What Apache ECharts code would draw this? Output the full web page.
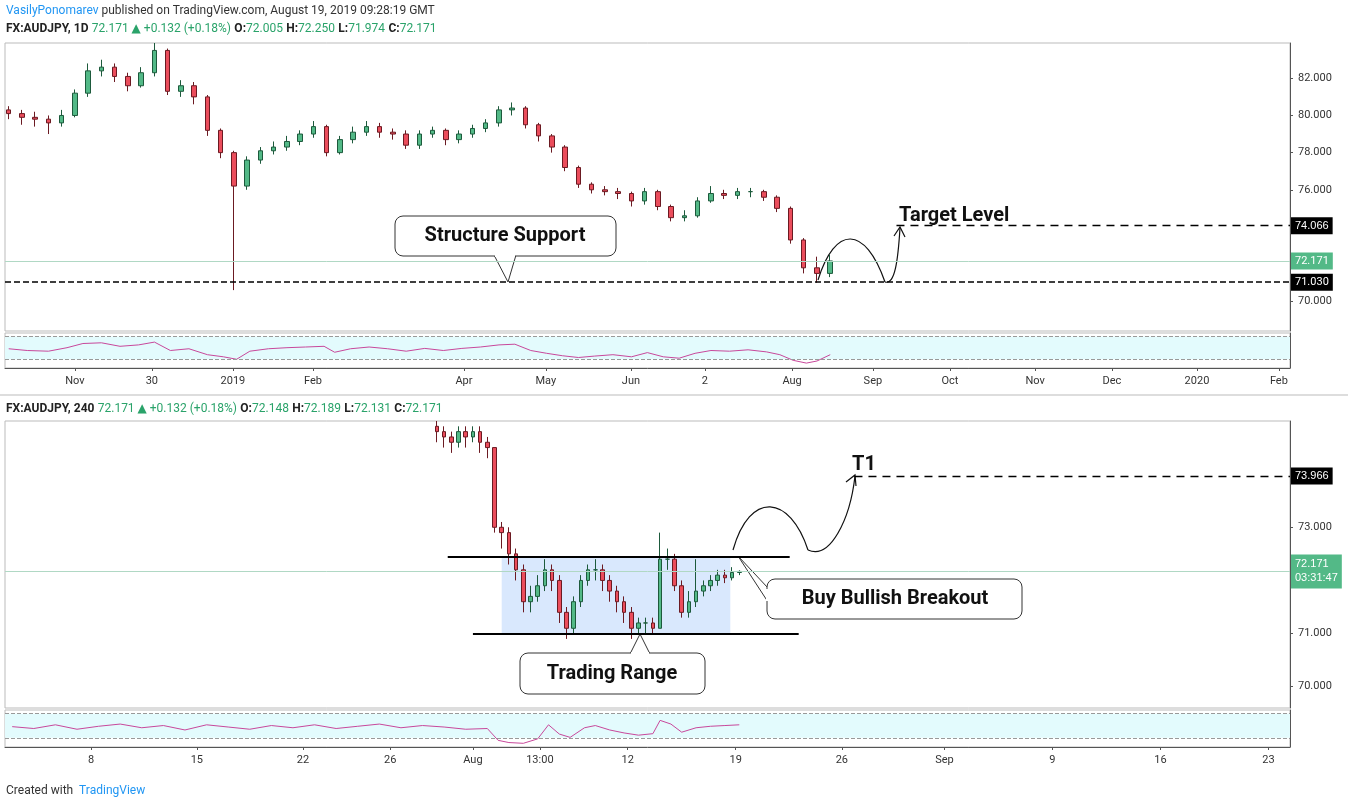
<!DOCTYPE html>
<html><head><meta charset="utf-8">
<script src="https://cdn.jsdelivr.net/npm/echarts@6/dist/echarts.min.js"></script>
<style>html,body{margin:0;padding:0;background:#fff}#c{width:1348px;height:810px}</style>
</head><body><div id="c"></div>
<script>
// daily candles: [pos, open, close, low, high]
var dailyCandles = [
  [-25,80.3,80.1,79.8,80.5],[-20,80.1,79.9,79.5,80.3],[-15,79.9,79.8,79.4,80.2],[-10,79.8,79.6,79.0,80.0],
  [-5,79.6,80.0,79.4,80.3],[0,80.0,81.2,79.9,81.4],[5,81.2,82.4,81.0,82.8],[10,82.4,82.6,82.1,83.0],
  [15,82.6,82.1,81.8,82.8],[20,82.1,81.6,81.3,82.3],[25,81.6,82.3,81.5,82.6],[30,82.3,83.5,82.1,83.9],
  [35,83.5,81.3,81.1,83.6],[40,81.3,81.6,81.0,81.9],[45,81.6,81.0,80.6,81.8],[50,81.0,79.2,78.9,81.1],
  [55,79.2,78.0,77.7,79.3],[60,78.0,76.2,70.6,78.1],[65,76.2,77.6,76.0,77.8],[70,77.6,78.1,77.4,78.3],
  [75,78.1,78.3,77.9,78.6],[80,78.3,78.6,78.1,78.9],[85,78.6,79.0,78.4,79.2],[90,79.0,79.4,78.8,79.7],
  [95,79.4,78.0,77.8,79.5],[100,78.0,78.7,77.9,78.9],[105,78.7,79.1,78.5,79.4],[110,79.1,79.4,78.9,79.7],
  [115,79.4,79.1,78.8,79.6],[120,79.1,79.0,78.7,79.3],[125,79.0,78.4,78.2,79.2],[130,78.4,79.0,78.2,79.2],
  [135,79.0,79.2,78.8,79.4],[140,79.2,78.7,78.4,79.3],[145,78.7,79.0,78.5,79.2],[150,79.0,79.3,78.8,79.5],
  [155,79.3,79.6,79.1,79.8],[160,79.6,80.3,79.4,80.5],[165,80.3,80.4,80.0,80.7],[170,80.4,79.5,79.3,80.5],
  [175,79.5,78.9,78.6,79.6],[180,78.9,78.3,78.0,79.0],[185,78.3,77.2,77.0,78.4],[190,77.2,76.3,76.1,77.3],
  [195,76.3,76.0,75.8,76.4],[200,76.0,75.9,75.7,76.2],[205,75.9,75.8,75.5,76.1],[210,75.8,75.4,75.1,75.9],
  [215,75.4,75.9,75.2,76.1],[220,75.9,75.1,74.9,76.0],[225,75.1,74.5,74.3,75.2],[230,74.5,74.6,74.3,74.9],
  [235,74.6,75.4,74.5,75.6],[240,75.4,75.8,75.3,76.2],[245,75.8,75.7,75.5,76.0],[250,75.7,75.9,75.5,76.1],
  [255,75.9,75.9,75.6,76.1],[260,75.9,75.6,75.4,76.0],[265,75.6,75.0,74.8,75.7],[270,75.0,73.3,73.1,75.1],
  [275,73.3,71.8,71.5,73.4],[280,71.8,71.5,71.0,72.4],[285,71.5,72.17,71.3,72.5]
];
var dailyRsi = [
  [-25,55],[-18,50],[-10,48],[-3,58],[3,70],[10,72],[17,62],[24,66],[30,74],[36,50],[43,55],[50,38],
  [56,32],[61,25],[66,48],[73,55],[80,58],[87,60],[94,62],[98,45],[104,55],[111,60],[118,55],[125,48],
  [132,56],[139,50],[146,56],[153,60],[160,66],[166,68],[172,50],[178,42],[184,35],[190,30],[196,34],
  [203,38],[210,32],[216,44],[222,32],[228,28],[234,42],[240,50],[247,48],[254,52],[261,46],[266,38],
  [271,22],[276,14],[280,20],[285,38]
];
var dailyTickPos = [0,29,59.6,89.8,146.8,177.7,209.8,237.7,270.6,301.1,330.2,362.3,391.3,423.4,454.3];
var dailyTickNames = ['Nov','30','2019','Feb','Apr','May','Jun','2','Aug','Sep','Oct','Nov','Dec','2020','Feb'];
var dailyPriceTicks = [70,76,78,80,82];

// 4h candles: [pos, open, close, low, high]
var h4Candles = [
  [120,74.9,74.8,74.6,75.0],[122,74.8,74.7,74.5,74.9],[124,74.7,74.6,74.4,74.8],[126,74.6,74.8,74.5,74.9],
  [128,74.8,74.7,74.5,74.9],[130,74.7,74.8,74.6,74.9],[132,74.8,74.6,74.4,74.9],[134,74.6,74.5,74.3,74.7],
  [136,74.5,73.0,72.9,74.5],[138,73.0,72.9,72.6,73.1],[140,72.9,72.5,72.3,73.0],[142,72.5,72.2,72.0,72.6],
  [144,72.2,71.6,71.4,72.3],[146,71.6,71.7,71.4,71.9],[148,71.7,71.9,71.6,72.1],[150,71.9,72.2,71.8,72.4],
  [152,72.2,72.0,71.8,72.3],[154,72.0,71.4,71.2,72.1],[156,71.4,71.1,70.9,71.5],[158,71.1,71.6,71.0,71.7],
  [160,71.6,72.0,71.5,72.1],[162,72.0,72.2,71.9,72.3],[164,72.2,72.2,72.0,72.4],[166,72.2,72.0,71.8,72.3],
  [168,72.0,71.8,71.6,72.1],[170,71.8,71.6,71.4,71.9],[172,71.6,71.4,71.2,71.7],[174,71.4,71.1,70.9,71.5],
  [176,71.1,71.2,71.0,71.3],[178,71.2,71.2,71.0,71.3],[180,71.2,71.1,71.0,71.3],[182,71.1,72.4,71.1,72.9],
  [184,72.4,72.4,72.2,72.6],[186,72.4,71.9,71.8,72.5],[188,71.9,71.4,71.3,72.0],[190,71.4,71.6,71.3,71.8],
  [192,71.6,71.8,71.5,72.4],[194,71.8,71.9,71.7,72.0],[196,71.9,72.0,71.8,72.1],[198,72.0,72.1,71.9,72.2],
  [200,72.1,72.05,71.95,72.2],[202,72.05,72.15,72.0,72.25],[204,72.15,72.17,72.1,72.19]
];
var h4Rsi = [
  [2,55],[8,50],[14,60],[20,48],[26,56],[32,62],[38,52],[44,58],[50,46],[56,60],[62,54],[68,48],[74,58],
  [80,52],[86,60],[92,50],[98,56],[104,62],[110,52],[116,58],[122,54],[128,48],[134,50],[137,18],[140,12],
  [144,10],[148,22],[151,60],[154,35],[157,26],[161,52],[164,58],[168,46],[172,38],[176,32],[180,36],
  [182,72],[185,62],[188,40],[192,52],[196,56],[200,58],[204,60]
];
var h4TickPos = [23.9,53.3,82.8,107,130,148.6,173,203,232.5,261,291,321,351];
var h4TickNames = ['8','15','22','26','Aug','13:00','12','19','26','Sep','9','16','23'];
var h4PriceTicks = [70,71,73];

var UP = '#53b987', DOWN = '#eb4d5c', FONT = 'Roboto, "DejaVu Sans", sans-serif';

function xAxis(idx, min, max, pos, names, showLabels) {
  return {
    type: 'value', gridIndex: idx, min: min, max: max,
    splitLine: {show: false}, axisLine: {show: showLabels, onZero: false, lineStyle: {color: '#555'}},
    axisTick: {show: showLabels, customValues: pos, lineStyle: {color: '#555'}, length: 3},
    axisLabel: {show: showLabels, customValues: pos, color: '#333', fontSize: 11, fontFamily: FONT,
      formatter: function (v) { var i = pos.indexOf(v); return i >= 0 ? names[i] : ''; }}
  };
}
function yPrice(idx, min, max, ticks) {
  return {
    type: 'value', gridIndex: idx, position: 'right', min: min, max: max,
    splitLine: {show: false}, axisLine: {show: true, onZero: false, lineStyle: {color: '#555'}},
    axisTick: {show: true, length: 3, customValues: ticks},
    axisLabel: {color: '#333', fontSize: 11, fontFamily: FONT, customValues: ticks,
      formatter: function (v) { return v.toFixed(3); }}
  };
}
function yRsi(idx) {
  return {type: 'value', gridIndex: idx, position: 'right', min: 0, max: 100,
    splitLine: {show: false}, axisLine: {show: true, onZero: false, lineStyle: {color: '#555'}},
    axisTick: {show: false}, axisLabel: {show: false}};
}
function priceTag(v, bg, fg) {
  return {yAxis: v, label: {show: true, position: 'end', formatter: v.toFixed(3), backgroundColor: bg,
    color: fg, padding: [3, 4], fontSize: 11, fontFamily: FONT, distance: 1}};
}
function rsiSeries(xi, yi, data) {
  return {type: 'line', xAxisIndex: xi, yAxisIndex: yi, data: data, symbol: 'none',
    lineStyle: {color: '#c8489b', width: 1}, silent: true,
    markArea: {silent: true, itemStyle: {color: '#e3fbfd'}, data: [[{yAxis: 25}, {yAxis: 90}]]},
    markLine: {silent: true, symbol: 'none', label: {show: false},
      lineStyle: {color: '#999', type: 'dashed', width: 1}, data: [{yAxis: 25}, {yAxis: 90}]}};
}

var chart = echarts.init(document.getElementById('c'));
chart.setOption({
  animation: false,
  grid: [
    {left: 5, right: 58, top: 43, height: 288, show: true, borderColor: '#bbb'},
    {left: 5, right: 58, top: 333, height: 35, show: true, borderColor: '#bbb'},
    {left: 5, right: 58, top: 421, height: 287, show: true, borderColor: '#bbb'},
    {left: 5, right: 58, top: 710, height: 37, show: true, borderColor: '#bbb'}
  ],
  xAxis: [
    xAxis(0, -26.4, 458.5, dailyTickPos, dailyTickNames, false),
    xAxis(1, -26.4, 458.5, dailyTickPos, dailyTickNames, true),
    xAxis(2, 0, 357, h4TickPos, h4TickNames, false),
    xAxis(3, 0, 357, h4TickPos, h4TickNames, true)
  ],
  yAxis: [yPrice(0, 68.4, 83.9, dailyPriceTicks), yRsi(1), yPrice(2, 69.6, 75, h4PriceTicks), yRsi(3)],
  series: [
    {type: 'candlestick', xAxisIndex: 0, yAxisIndex: 0, data: dailyCandles, barWidth: 5,
      encode: {x: 0, y: [1, 2, 3, 4]},
      itemStyle: {color: UP, color0: DOWN, borderColor: '#1d5a3c', borderColor0: '#6b1a22', borderWidth: 1},
      markLine: {symbol: 'none', silent: true, data: [
        Object.assign({lineStyle: {color: '#000', type: 'dashed', width: 1.5}}, priceTag(71.030, '#000', '#fff')),
        [{coord: [310, 74.066], lineStyle: {color: '#000', type: [8, 6], width: 1.3}, label: {show: true, position: 'end',
          formatter: '74.066', backgroundColor: '#000', color: '#fff', padding: [3, 4], fontSize: 11, distance: 1}},
         {coord: [458.5, 74.066]}],
        Object.assign({lineStyle: {color: '#b0d8c4', type: 'solid', width: 1}}, priceTag(72.171, UP, '#fff'))
      ]}},
    rsiSeries(1, 1, dailyRsi),
    {type: 'candlestick', xAxisIndex: 2, yAxisIndex: 2, data: h4Candles, barWidth: 4,
      encode: {x: 0, y: [1, 2, 3, 4]},
      itemStyle: {color: UP, color0: DOWN, borderColor: '#1d5a3c', borderColor0: '#6b1a22', borderWidth: 1},
      markArea: {silent: true, itemStyle: {color: 'rgba(170,205,250,0.45)'}, data: [[{coord: [138, 72.45]}, {coord: [201.5, 71.0]}]]},
      markLine: {symbol: 'none', silent: true, data: [
        [{coord: [123, 72.45], lineStyle: {color: '#000', type: 'solid', width: 2}, label: {show: false}}, {coord: [218, 72.45]}],
        [{coord: [130, 71.0], lineStyle: {color: '#000', type: 'solid', width: 2}, label: {show: false}}, {coord: [220.5, 71.0]}],
        [{coord: [236, 73.966], lineStyle: {color: '#000', type: [8, 6], width: 1.3}, label: {show: true, position: 'end',
          formatter: '73.966', backgroundColor: '#000', color: '#fff', padding: [3, 4], fontSize: 11, distance: 1}},
         {coord: [357, 73.966]}],
        {yAxis: 72.171, lineStyle: {color: '#b0d8c4', type: 'solid', width: 1},
          label: {show: true, position: 'end', formatter: '72.171\n03:31:47', backgroundColor: UP, color: '#fff',
            padding: [3, 4], fontSize: 11, lineHeight: 14, distance: 1}}
      ]}},
    rsiSeries(3, 3, h4Rsi)
  ],
  graphic: [
    {type: 'text', left: 6, top: 5, style: {text: '{a|VasilyPonomarev} published on TradingView.com, August 19, 2019 09:28:19 GMT',
      font: '12px ' + FONT, fill: '#333', rich: {a: {fill: '#2196f3', font: '12px ' + FONT}}}},
    {type: 'text', left: 6, top: 23, style: {text: '{b|FX:AUDJPY, 1D} {g|72.171 ▲ +0.132 (+0.18%)} {b|O:}{g|72.005} {b|H:}{g|72.250} {b|L:}{g|71.974} {b|C:}{g|72.171}',
      rich: {b: {fill: '#222', font: 'bold 12px ' + FONT}, g: {fill: '#2aa36a', font: '12px ' + FONT}}}},
    {type: 'text', left: 6, top: 403, style: {text: '{b|FX:AUDJPY, 240} {g|72.171 ▲ +0.132 (+0.18%)} {b|O:}{g|72.148} {b|H:}{g|72.189} {b|L:}{g|72.131} {b|C:}{g|72.171}',
      rich: {b: {fill: '#222', font: 'bold 12px ' + FONT}, g: {fill: '#2aa36a', font: '12px ' + FONT}}}},
    {type: 'line', shape: {x1: 0, y1: 395, x2: 1348, y2: 395}, style: {stroke: '#bbb'}},
    {type: 'text', left: 6, top: 785, style: {text: 'Created with  {t|TradingView}', font: '12px ' + FONT, fill: '#333',
      rich: {t: {fill: '#2196f3', font: '12px ' + FONT}}}},
    {type: 'polygon', shape: {points: [[494, 255], [508, 282], [516, 255]]}, style: {fill: '#fff', stroke: '#333'}},
    {type: 'rect', shape: {x: 395, y: 216, width: 221, height: 40, r: 8}, style: {fill: '#fff', stroke: '#333'}},
    {type: 'line', shape: {x1: 495, y1: 256, x2: 515, y2: 256}, style: {stroke: '#fff', lineWidth: 2}},
    {type: 'text', x: 505, y: 236, style: {text: 'Structure Support', font: 'bold 20px ' + FONT, fill: '#111', align: 'center', verticalAlign: 'middle'}},
    {type: 'text', x: 899, y: 216, style: {text: 'Target Level', font: 'bold 20px ' + FONT, fill: '#111', verticalAlign: 'middle'}},
    {type: 'bezierCurve', shape: {x1: 818, y1: 280, x2: 885, y2: 282, cpx1: 835, cpy1: 225, cpx2: 865, cpy2: 225}, style: {stroke: '#111', fill: 'none', lineWidth: 1.2}},
    {type: 'bezierCurve', shape: {x1: 885, y1: 282, x2: 900, y2: 228, cpx1: 895, cpy1: 285, cpx2: 898, cpy2: 260}, style: {stroke: '#111', fill: 'none', lineWidth: 1.2}},
    {type: 'polyline', shape: {points: [[894, 236], [900, 227], [905, 237]]}, style: {stroke: '#111', fill: 'none', lineWidth: 1.2}},
    {type: 'text', x: 852, y: 465, style: {text: 'T1', font: 'bold 20px ' + FONT, fill: '#111', verticalAlign: 'middle'}},
    {type: 'bezierCurve', shape: {x1: 733, y1: 550, x2: 808, y2: 550, cpx1: 750, cpy1: 490, cpx2: 790, cpy2: 495}, style: {stroke: '#111', fill: 'none', lineWidth: 1.2}},
    {type: 'bezierCurve', shape: {x1: 808, y1: 550, x2: 855, y2: 476, cpx1: 830, cpy1: 560, cpx2: 850, cpy2: 520}, style: {stroke: '#111', fill: 'none', lineWidth: 1.2}},
    {type: 'polyline', shape: {points: [[846, 482], [855, 475], [856, 486]]}, style: {stroke: '#111', fill: 'none', lineWidth: 1.2}},
    {type: 'polygon', shape: {points: [[768, 588], [738, 556], [768, 602]]}, style: {fill: '#fff', stroke: '#333'}},
    {type: 'rect', shape: {x: 767, y: 579, width: 255, height: 40, r: 8}, style: {fill: '#fff', stroke: '#333'}},
    {type: 'line', shape: {x1: 767, y1: 589, x2: 767, y2: 601}, style: {stroke: '#fff', lineWidth: 2}},
    {type: 'text', x: 895, y: 599, style: {text: 'Buy Bullish Breakout', font: 'bold 20px ' + FONT, fill: '#111', align: 'center', verticalAlign: 'middle'}},
    {type: 'polygon', shape: {points: [[630, 654], [640, 634], [650, 654]]}, style: {fill: '#fff', stroke: '#333'}},
    {type: 'rect', shape: {x: 520, y: 653, width: 185, height: 41, r: 8}, style: {fill: '#fff', stroke: '#333'}},
    {type: 'line', shape: {x1: 631, y1: 653, x2: 649, y2: 653}, style: {stroke: '#fff', lineWidth: 2}},
    {type: 'text', x: 612, y: 674, style: {text: 'Trading Range', font: 'bold 20px ' + FONT, fill: '#111', align: 'center', verticalAlign: 'middle'}}
  ]
});
</script></body></html>
